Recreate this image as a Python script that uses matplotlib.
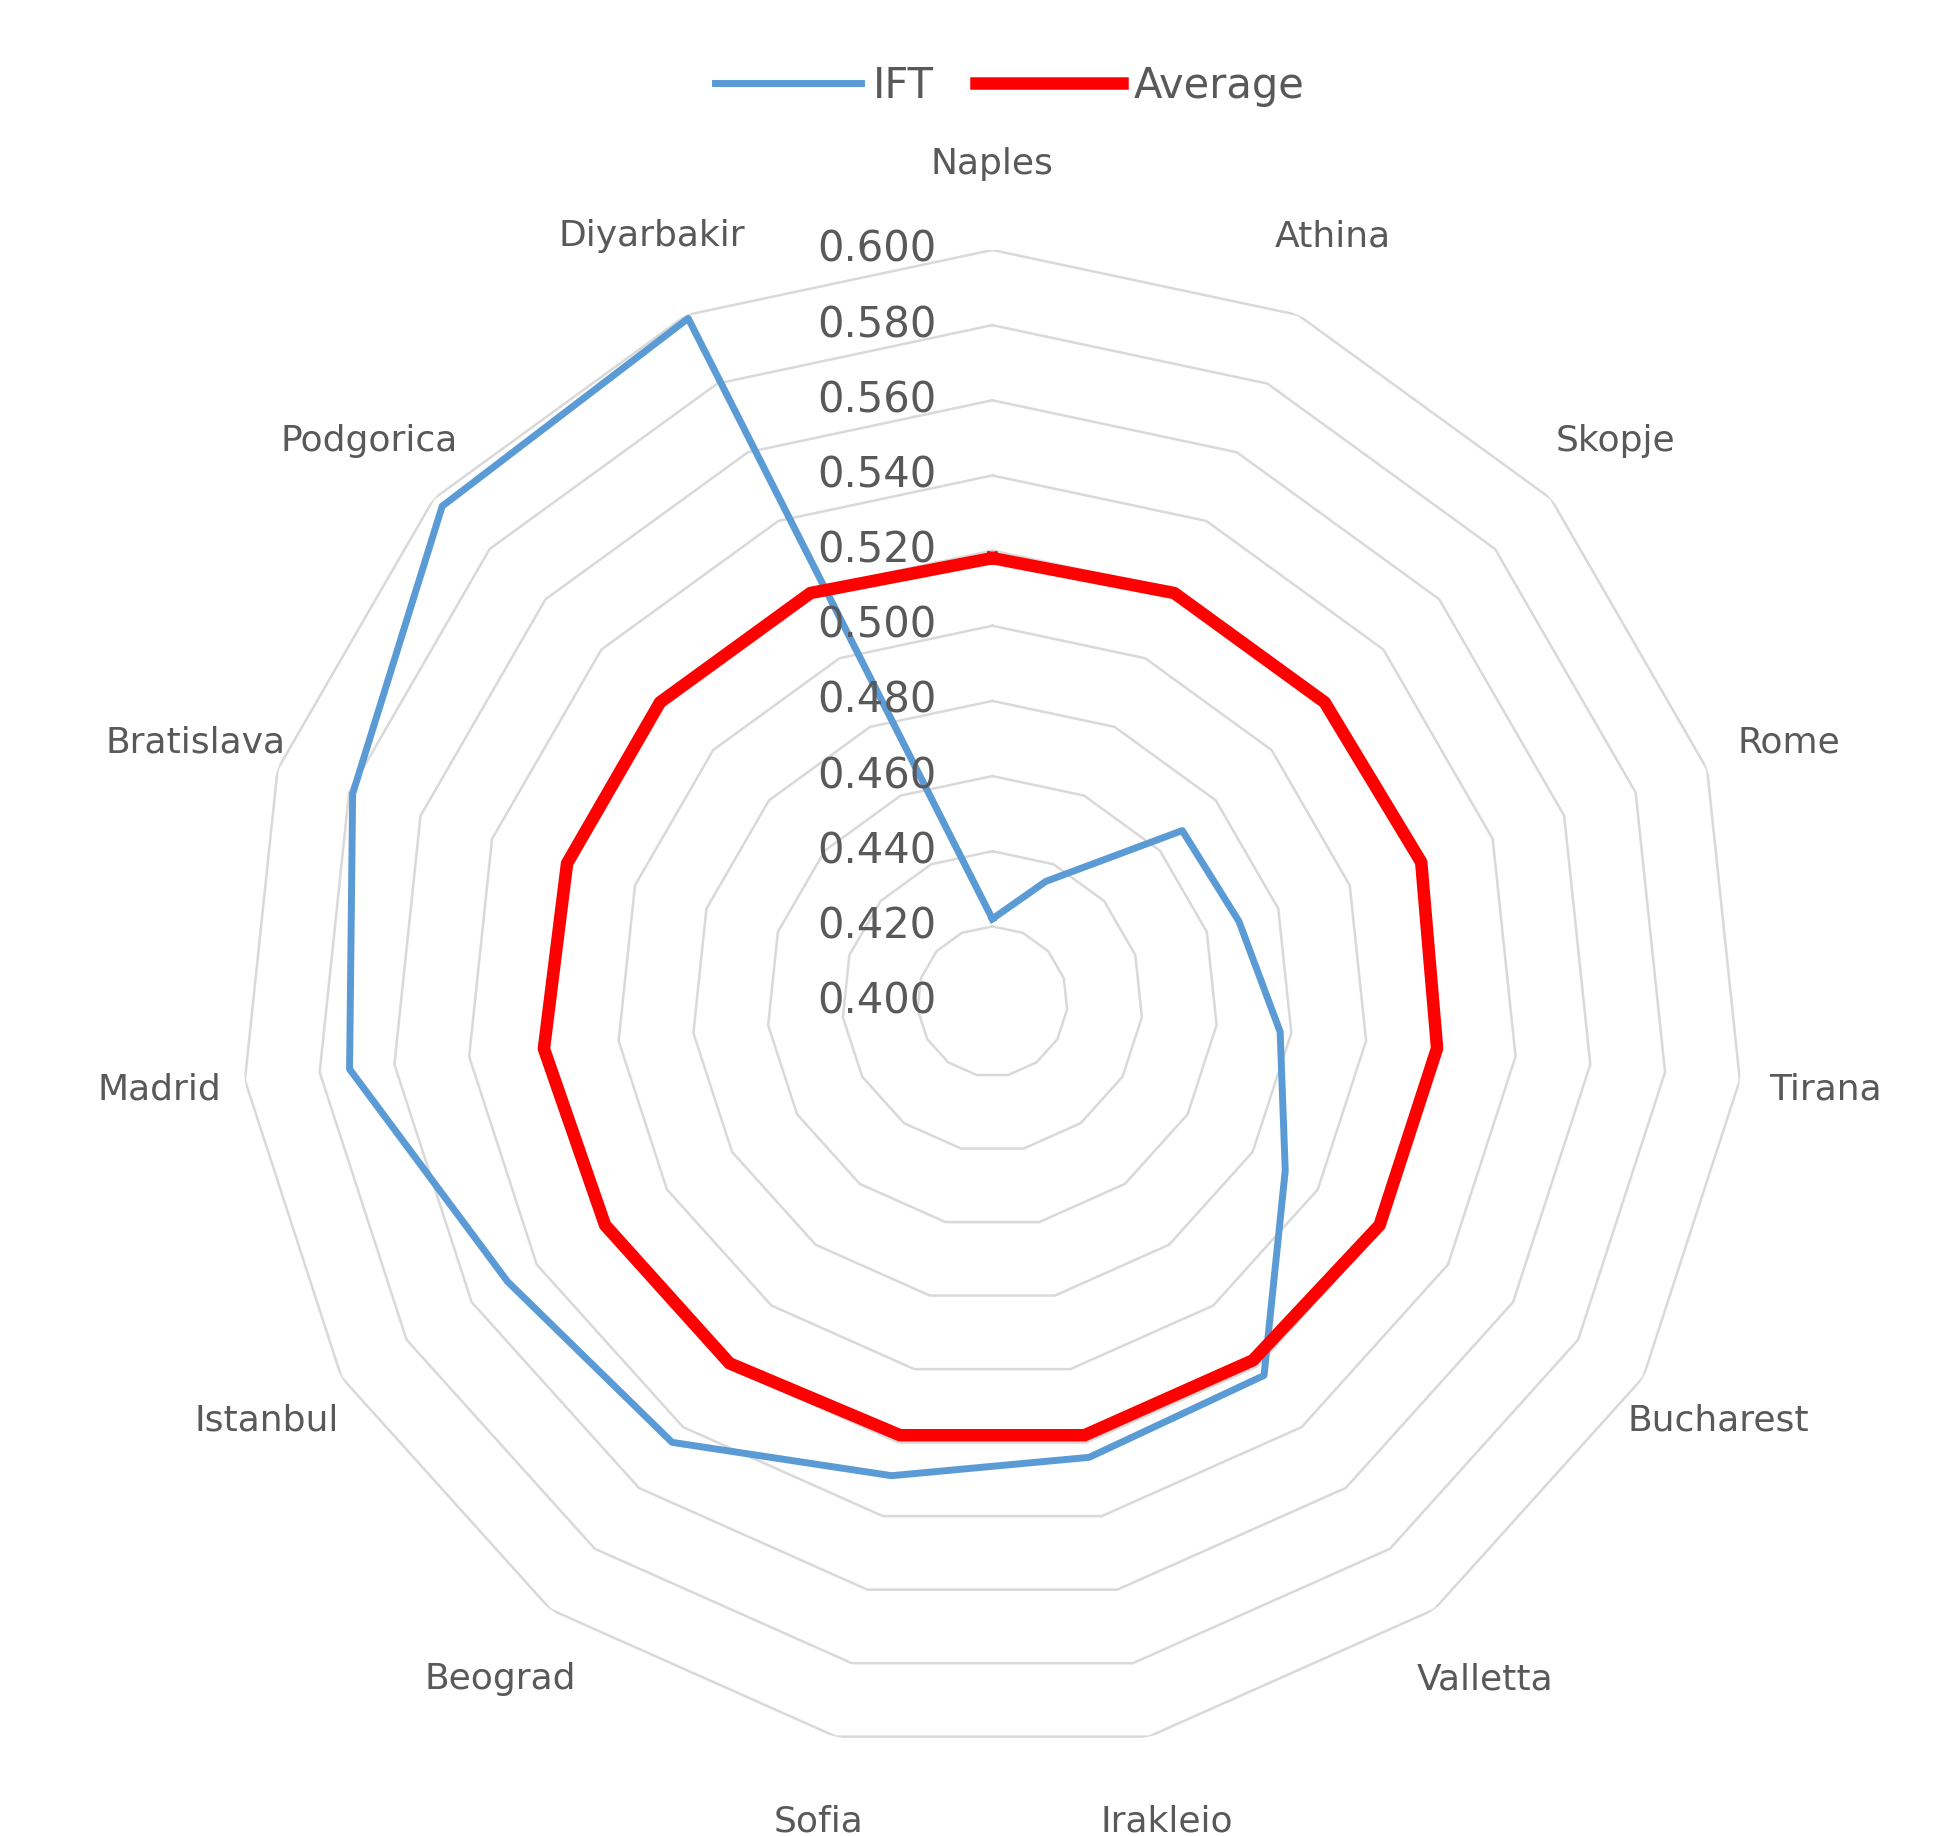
import numpy as np
import matplotlib
matplotlib.use("Agg")
import matplotlib.pyplot as plt

cities = ["Naples","Athina","Skopje","Rome","Tirana","Bucharest","Valletta","Irakleio",
          "Sofia","Beograd","Istanbul","Madrid","Bratislava","Podgorica","Diyarbakir"]
ift = [0.422,0.435,0.468,0.469,0.477,0.490,0.523,0.524,0.529,0.545,0.549,0.572,0.579,0.597,0.599]
avg = [0.518,0.519,0.519,0.520,0.519,0.519,0.518,0.518,0.518,0.519,0.519,0.520,0.519,0.519,0.519]
ticks = [0.40,0.42,0.44,0.46,0.48,0.50,0.52,0.54,0.56,0.58,0.60]

n = len(cities)
theta = np.arange(n) * 2*np.pi/n
tc = np.append(theta, theta[0])

fig = plt.figure(figsize=(19.42,18.36), dpi=100)
ax = fig.add_axes([0.124,0.045,0.774,0.819], projection='polar')
ax.set_theta_zero_location('N'); ax.set_theta_direction(-1)
ax.set_ylim(0.4,0.6)
ax.grid(False); ax.spines['polar'].set_visible(False)
ax.set_xticks([]); ax.set_yticks([])
for t in ticks[1:]:
    ax.plot(tc, [t]*(n+1), color='#d9d9d9', lw=1.8, zorder=1)
ax.plot(tc, ift+[ift[0]], color='#5b9bd5', lw=5, zorder=3, label='IFT')
ax.plot(tc, avg+[avg[0]], color='#ff0000', lw=9, zorder=4, label='Average')
for t in ticks:
    ax.annotate(f"{t:.3f}", (0, t), xytext=(-40,0), textcoords='offset points',
                ha='right', va='center', fontsize=30, color='#595959', zorder=5)
for th, c in zip(theta, cities):
    ax.text(th, 0.623, c, ha='center', va='center', fontsize=26, color='#595959')
fig.legend(loc='upper center', bbox_to_anchor=(0.52,0.985), ncol=2, frameon=False,
           fontsize=30, labelcolor='#595959', handlelength=3.5, columnspacing=1.0, handletextpad=0.3)
fig.savefig('out.png', dpi=100)
